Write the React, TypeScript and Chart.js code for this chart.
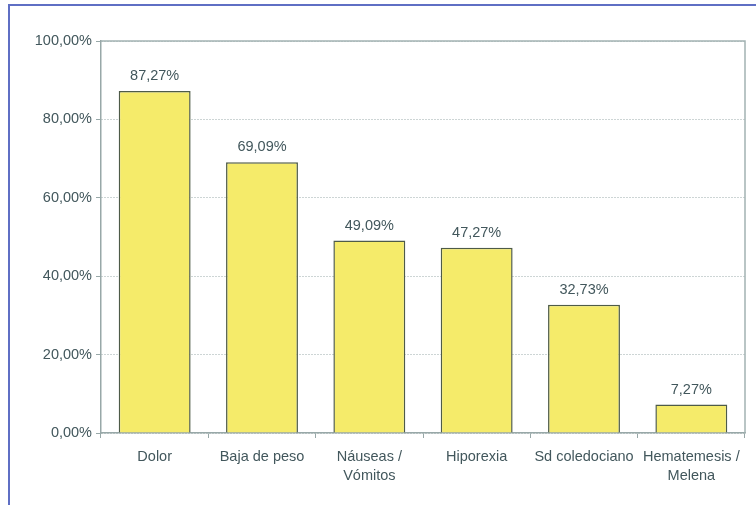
import React, { useEffect, useRef } from "react";
import { Chart, registerables } from "chart.js";

Chart.register(...registerables);

const categories: (string | string[])[] = [
  "Dolor",
  "Baja de peso",
  ["Náuseas /", "Vómitos"],
  "Hiporexia",
  "Sd coledociano",
  ["Hematemesis /", "Melena"],
];
const values: number[] = [87.27, 69.09, 49.09, 47.27, 32.73, 7.27];
const yTicks: number[] = [0, 20, 40, 60, 80, 100];

const FONT = "'Liberation Sans', Arial, sans-serif";
const TEXT = "#42575c";
const fmt = (v: number) => v.toFixed(2).replace(".", ",") + "%";

export default function App() {
  const ref = useRef<HTMLCanvasElement | null>(null);
  useEffect(() => {
    if (!ref.current) return;
    const framePlugin = {
      id: "frame",
      beforeDraw(chart: any) {
        const ctx = chart.ctx;
        ctx.save();
        ctx.fillStyle = "#ffffff";
        ctx.fillRect(0, 0, chart.width, chart.height);
        ctx.strokeStyle = "#5f6fc4";
        ctx.lineWidth = 2;
        ctx.beginPath();
        ctx.moveTo(756, 5);
        ctx.lineTo(9, 5);
        ctx.lineTo(9, 505);
        ctx.stroke();
        ctx.restore();
      },
      beforeDatasetsDraw(chart: any) {
        const { ctx, chartArea: a } = chart;
        ctx.save();
        ctx.strokeStyle = "#a3b3b3";
        ctx.lineWidth = 1.5;
        ctx.beginPath();
        ctx.moveTo(a.left, a.top);
        ctx.lineTo(a.right, a.top);
        ctx.lineTo(a.right, a.bottom);
        ctx.stroke();
        ctx.restore();
      },
      afterDatasetsDraw(chart: any) {
        const { ctx } = chart;
        const meta = chart.getDatasetMeta(0);
        ctx.save();
        ctx.fillStyle = TEXT;
        ctx.font = `14.5px ${FONT}`;
        ctx.textAlign = "center";
        ctx.textBaseline = "alphabetic";
        meta.data.forEach((bar: any, i: number) => {
          ctx.fillText(fmt(values[i]), bar.x, bar.y - 11);
        });
        ctx.restore();
      },
    };
    const chart = new Chart(ref.current, {
      type: "bar",
      data: {
        labels: categories,
        datasets: [
          {
            data: values,
            backgroundColor: "#f5eb6a",
            borderColor: "#4e5b48",
            borderWidth: 1.5,
            barPercentage: 0.67,
            categoryPercentage: 1,
          },
        ],
      },
      options: {
        animation: false,
        responsive: false,
        layout: { padding: { top: 41, right: 11, left: 0, bottom: 0 } },
        plugins: { legend: { display: false }, tooltip: { enabled: false } },
        scales: {
          x: {
            offset: true,
            grid: {
              offset: true,
              drawOnChartArea: false,
              drawTicks: true,
              tickLength: 5,
              color: "#98a8a8",
            },
            border: { display: true, color: "#98a8a8", width: 1.5 },
            ticks: {
              color: TEXT,
              font: { family: FONT, size: 14.5, lineHeight: 1.35 },
              padding: 9,
              autoSkip: false,
              maxRotation: 0,
              minRotation: 0,
            },
            afterFit(scale: any) {
              scale.height = 72;
            },
          },
          y: {
            min: 0,
            max: 100,
            afterBuildTicks(scale: any) {
              scale.ticks = yTicks.map((v) => ({ value: v }));
            },
            grid: {
              color: "#9aaaaa",
              lineWidth: 1,
              drawTicks: true,
              tickLength: 5,
              tickColor: "#98a8a8",
            },
            border: { display: true, color: "#98a8a8", width: 1.5, dash: [1, 2] },
            ticks: {
              color: TEXT,
              font: { family: FONT, size: 14.5 },
              padding: 4,
              callback: (v: any) => fmt(Number(v)),
            },
            afterFit(scale: any) {
              scale.width = 101;
            },
          },
        },
      },
      plugins: [framePlugin],
    });
    return () => chart.destroy();
  }, []);
  return (
    <div style={{ position: "absolute", left: 0, top: 0, width: 756, height: 505 }}>
      <canvas ref={ref} width={756} height={505} />
    </div>
  );
}
